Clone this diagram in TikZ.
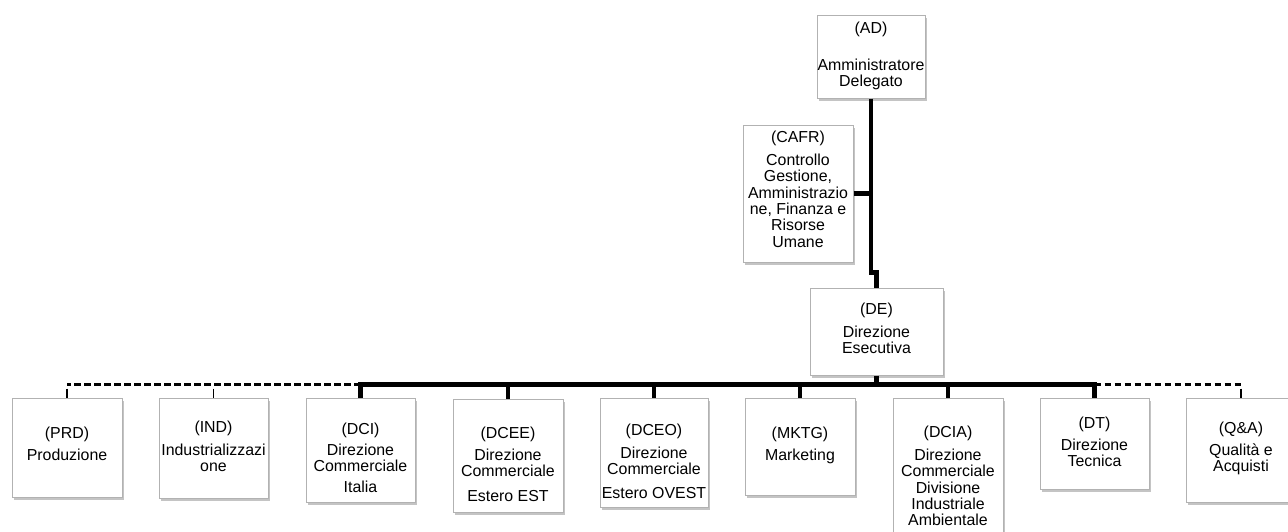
\documentclass[tikz,border=0pt]{standalone}
\usepackage{fontspec}
\setmainfont{Liberation Sans}
\usetikzlibrary{shadows,calc}
\begin{document}
\begin{tikzpicture}[x=1pt,y=-1pt,
  box/.style={draw=gray!60, line width=1pt, fill=white, inner sep=0pt, minimum width=110pt,
    drop shadow={shadow xshift=1.5pt, shadow yshift=-3pt, opacity=0.55, fill=gray!85}},
  lbl/.style={anchor=north, align=center, inner sep=0pt, font=\fontsize{15.9}{16.3}\selectfont},
  mainline/.style={line width=4.5pt},
  auxline/.style={line width=2.2pt, dash pattern=on 6.5pt off 3.5pt},
  stubline/.style={line width=1.5pt}
]
\useasboundingbox (0,0) rectangle (1288,531);
\clip (0,0) rectangle (1288,531);

% boxes
\node[box, minimum width=108pt, minimum height=83pt] (AD) at (871,56.5) {};
\node[box, minimum height=137pt] (CAFR) at (798,193.5) {};
\node[box, minimum width=133pt, minimum height=87pt] (DE) at (876.5,331.5) {};
\node[box, minimum height=99pt] (PRD) at (67,447.5) {};
\node[box, minimum width=109pt, minimum height=100pt] (IND) at (213.5,448) {};
\node[box, minimum width=109pt, minimum height=104pt] (DCI) at (360.5,450) {};
\node[box, minimum height=113pt] (DCEE) at (508,455.5) {};
\node[box, minimum width=108pt, minimum height=109pt] (DCEO) at (654,452.5) {};
\node[box, minimum height=97pt] (MKTG) at (800,446.5) {};
\node[box, minimum height=147pt] (DCIA) at (948,471.5) {};
\node[box, minimum width=109pt, minimum height=91pt] (DT) at (1094.5,443.5) {};
\node[box, minimum height=104pt] (QA) at (1241,450) {};

% labels
\node[lbl] (ADt) at (871,22) {(AD)\\[20pt]Amministratore\\Delegato};
\node[lbl] (CAFRt) at (798,131) {(CAFR)\\[6.5pt]Controllo\\Gestione,\\Amministrazio\\ne, Finanza e\\Risorse\\Umane};
\node[lbl] (DEt) at (876.5,303) {(DE)\\[6.5pt]Direzione\\Esecutiva};
\node[lbl] (PRDt) at (67,427) {(PRD)\\[5.5pt]Produzione};
\node[lbl] (INDt) at (213.5,421) {(IND)\\[6.5pt]Industrializzazi\\one};
\node[lbl] (DCIt) at (360.5,423) {(DCI)\\[4.5pt]Direzione\\Commerciale\\[4.5pt]Italia};
\node[lbl] (DCEEt) at (508,427) {(DCEE)\\[5.5pt]Direzione\\Commerciale\\[8.5pt]Estero EST};
\node[lbl] (DCEOt) at (654,424) {(DCEO)\\[6.5pt]Direzione\\Commerciale\\[7.5pt]Estero OVEST};
\node[lbl] (MKTGt) at (800,427) {(MKTG)\\[5.5pt]Marketing};
\node[lbl] (DCIAt) at (948,426) {(DCIA)\\[6.5pt]Direzione\\Commerciale\\Divisione\\Industriale\\Ambientale};
\node[lbl] (DTt) at (1094.5,417) {(DT)\\[5.5pt]Direzione\\Tecnica};
\node[lbl] (QAt) at (1241,422) {(Q\&A)\\[5.5pt]Qualità e\\Acquisti};

% connectors
\draw[mainline] (AD.south) |- ([yshift=15pt]DE.north) -- (DE.north);
\draw[mainline] (CAFR.east) -- (CAFR.east -| AD.south);
\draw[mainline] (DE.south) -- ++(0,10);
\draw[mainline] (DCI.north) -- ++(0,-13) -| (DT.north);
\foreach \n in {DCEE,DCEO,MKTG,DCIA} \draw[mainline] (\n.north) -- ++(0,-12);
\draw[auxline] ([yshift=13pt]DCI.north) -- ([yshift=13pt]PRD.north);
\draw[auxline] ([yshift=13pt]DT.north) -- ([yshift=13pt]QA.north);
\foreach \n in {PRD,IND,QA} \draw[stubline] ([yshift=9pt]\n.north) -- (\n.north);
\end{tikzpicture}
\end{document}
